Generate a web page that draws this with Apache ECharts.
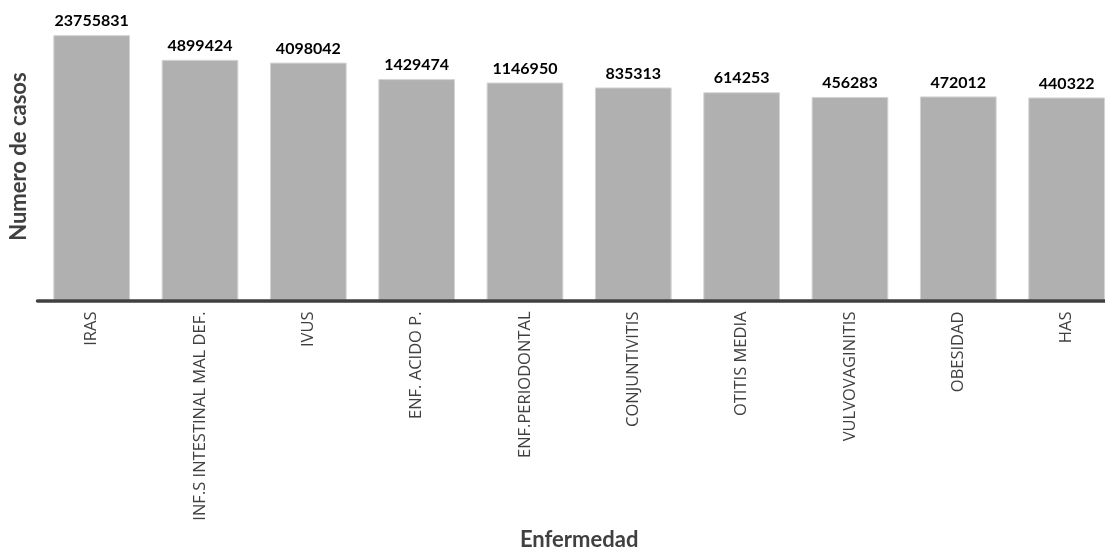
<!DOCTYPE html>
<html>
<head>
<meta charset="utf-8">
<script src="https://cdn.jsdelivr.net/npm/echarts@6/dist/echarts.min.js"></script>
<style>
  html, body { margin: 0; padding: 0; background: #ffffff; }
  #chart { width: 1105px; height: 547px; }
</style>
</head>
<body>
<div id="chart"></div>
<script>
// Casos por enfermedad (escala logarítmica)
const categories = [
  'IRAS', 'INF.S INTESTINAL MAL DEF.', 'IVUS', 'ENF. ACIDO P.', 'ENF.PERIODONTAL',
  'CONJUNTIVITIS', 'OTITIS MEDIA', 'VULVOVAGINITIS', 'OBESIDAD', 'HAS'
];
const casos = [23755831, 4899424, 4098042, 1429474, 1146950, 835313, 614253, 456283, 472012, 440322];
const xTitle = 'Enfermedad';
const yTitle = 'Numero de casos';

const chart = echarts.init(document.getElementById('chart'), null, { renderer: 'canvas' });

const textColor = '#404040';

chart.setOption({
  animation: false,
  backgroundColor: '#ffffff',
  grid: {
    left: 37.5,
    top: 12.7,
    width: 1083.3,
    height: 287.8,
    containLabel: false,
    outerBoundsMode: 'none'
  },
  xAxis: {
    type: 'category',
    data: categories,
    z: 5,
    name: xTitle,
    nameLocation: 'middle',
    nameGap: 227,
    nameTextStyle: {
      fontFamily: 'Lato',
      fontWeight: 'bold',
      fontSize: 22,
      color: textColor
    },
    axisLine: { show: true, lineStyle: { color: '#404040', width: 3.5 } },
    axisTick: { show: false },
    axisLabel: {
      rotate: 90,
      margin: 11,
      interval: 0,
      fontFamily: 'Open Sans',
      fontSize: 16.5,
      color: textColor
    },
    splitLine: { show: false }
  },
  yAxis: {
    type: 'log',
    logBase: 10,
    min: 1,
    max: 100000000,
    name: yTitle,
    nameLocation: 'middle',
    nameGap: 8,
    nameTextStyle: {
      fontFamily: 'Lato',
      fontWeight: 'bold',
      fontSize: 22,
      color: textColor
    },
    axisLine: { show: false },
    axisTick: { show: false },
    axisLabel: { show: false },
    splitLine: { show: false }
  },
  series: [{
    type: 'bar',
    data: casos,
    barWidth: '70.8%',
    itemStyle: {
      color: '#b0b0b0',
      borderColor: '#d4d4d4',
      borderWidth: 1
    },
    label: {
      show: true,
      position: 'top',
      distance: 6,
      fontFamily: 'Lato',
      fontWeight: 'bold',
      fontSize: 16,
      color: '#000000'
    }
  }]
});
</script>
</body>
</html>
